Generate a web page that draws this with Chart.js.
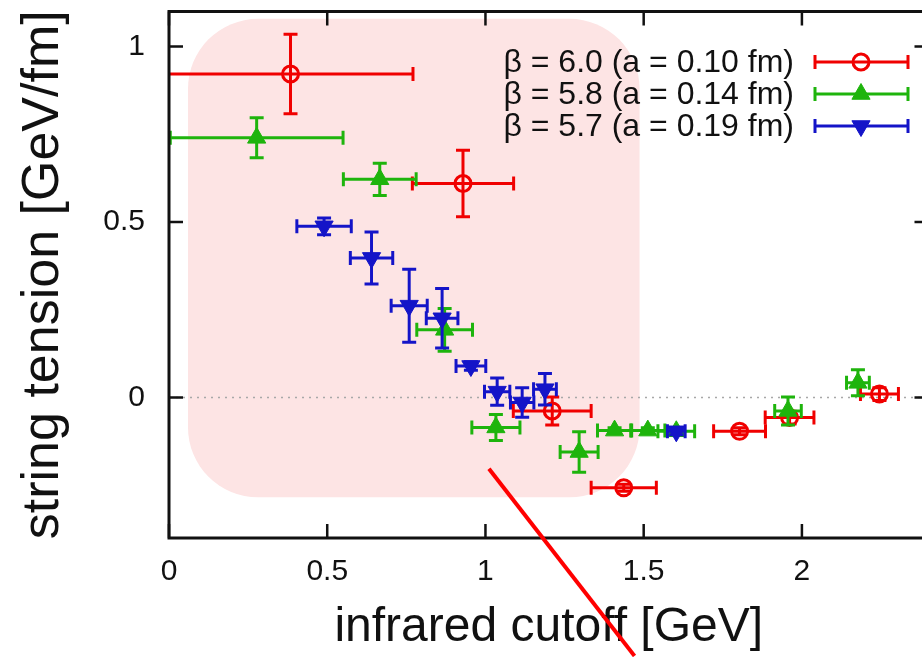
<!DOCTYPE html>
<html>
<head>
<meta charset="utf-8">
<script src="https://cdn.jsdelivr.net/npm/chart.js@4.4.1/dist/chart.umd.min.js"></script>
<style>
  html, body { margin: 0; padding: 0; background: #fff; overflow: hidden; }
  #wrap { width: 922px; height: 657px; overflow: hidden; }
</style>
</head>
<body>
<div id="wrap"><canvas id="chart" width="940" height="657"></canvas></div>
<script>
// Datos
const seriesLabels = ['β = 6.0 (a = 0.10 fm)', 'β = 5.8 (a = 0.14 fm)', 'β = 5.7 (a = 0.19 fm)'];

const redX    = [0.384, 0.929, 1.211, 1.437, 1.803, 1.961, 2.245];
const redY    = [0.922, 0.610, -0.038, -0.257, -0.096, -0.057, 0.010];
const redXErr = [0.387, 0.160, 0.123, 0.103, 0.082, 0.077, 0.060];
const redYErr = [0.113, 0.095, 0.040, 0.010, 0.010, 0.018, 0.018];

const greenX    = [0.277, 0.666, 0.871, 1.033, 1.296, 1.408, 1.513, 1.603, 1.956, 2.177];
const greenY    = [0.740, 0.622, 0.193, -0.085, -0.155, -0.094, -0.094, -0.096, -0.038, 0.042];
const greenXErr = [0.273, 0.115, 0.088, 0.076, 0.060, 0.054, 0.054, 0.058, 0.042, 0.036];
const greenYErr = [0.057, 0.046, 0.061, 0.037, 0.058, 0.008, 0.008, 0.010, 0.040, 0.037];

const blueX    = [0.490, 0.640, 0.759, 0.863, 0.954, 1.037, 1.116, 1.188, 1.603];
const blueY    = [0.488, 0.398, 0.262, 0.226, 0.090, 0.017, -0.014, 0.024, -0.096];
const blueXErr = [0.086, 0.067, 0.057, 0.050, 0.047, 0.040, 0.037, 0.036, 0.028];
const blueYErr = [0.024, 0.074, 0.104, 0.085, 0.012, 0.039, 0.042, 0.045, 0.010];

const xTicks = [0, 0.5, 1, 1.5, 2];
const yTicks = [0, 0.5, 1];

// shaded region and red arrow, in data units
const shadeBox = { x0: 0.06, x1: 1.487, y0: -0.284, y1: 1.079 };
const arrowLine = { x0: 1.011, y0: -0.2025, x1: 1.471, y1: -0.736 };

const RED = '#f00000';
const GREEN = '#1eb40c';
const BLUE = '#1414c8';
const FONT = '"Liberation Sans", Arial, Helvetica, sans-serif';

function toPoints(xs, ys) {
    return xs.map((x, i) => ({ x: x, y: ys[i] }));
}

function makeDataset(label, xs, ys, xErr, yErr, color, style, order) {
    return {
        label: label,
        data: toPoints(xs, ys),
        xErr: xErr,
        yErr: yErr,
        showLine: false,
        borderColor: color,
        pointBorderColor: color,
        pointBackgroundColor: style.fill ? color : 'rgba(0,0,0,0)',
        pointStyle: style.shape,
        pointRotation: style.rotation,
        pointRadius: style.radius,
        pointHoverRadius: style.radius,
        pointBorderWidth: style.border,
        order: order
    };
}

const redStyle = { shape: 'circle', fill: false, rotation: 0, radius: 8, border: 3 };
const greenStyle = { shape: 'triangle', fill: true, rotation: 0, radius: 10.5, border: 1 };
const blueStyle = { shape: 'triangle', fill: true, rotation: 180, radius: 10.5, border: 1 };

// Barras de error
const errorBars = {
    id: 'errorBars',
    beforeDatasetDraw(chart, args) {
        const ds = chart.data.datasets[args.index];
        const xs = chart.scales.x, ys = chart.scales.y;
        const area = chart.chartArea;
        const ctx = chart.ctx;
        const cap = 7;
        ctx.save();
        ctx.beginPath();
        ctx.rect(area.left, area.top, area.right - area.left, area.bottom - area.top);
        ctx.clip();
        ctx.strokeStyle = ds.borderColor;
        ctx.lineWidth = 3;
        ds.data.forEach((p, i) => {
            const px = xs.getPixelForValue(p.x);
            const py = ys.getPixelForValue(p.y);
            const xl = xs.getPixelForValue(p.x - ds.xErr[i]);
            const xr = xs.getPixelForValue(p.x + ds.xErr[i]);
            const yt = ys.getPixelForValue(p.y + ds.yErr[i]);
            const yb = ys.getPixelForValue(p.y - ds.yErr[i]);
            ctx.beginPath();
            ctx.moveTo(xl, py); ctx.lineTo(xr, py);
            ctx.moveTo(xl, py - cap); ctx.lineTo(xl, py + cap);
            ctx.moveTo(xr, py - cap); ctx.lineTo(xr, py + cap);
            ctx.moveTo(px, yt); ctx.lineTo(px, yb);
            ctx.moveTo(px - cap, yt); ctx.lineTo(px + cap, yt);
            ctx.moveTo(px - cap, yb); ctx.lineTo(px + cap, yb);
            ctx.stroke();
        });
        ctx.restore();
    }
};

// Fondo rosa y linea de cero
const background = {
    id: 'background',
    beforeDatasetsDraw(chart) {
        const xs = chart.scales.x, ys = chart.scales.y;
        const area = chart.chartArea;
        const ctx = chart.ctx;
        const l = xs.getPixelForValue(shadeBox.x0), r = xs.getPixelForValue(shadeBox.x1);
        const t = ys.getPixelForValue(shadeBox.y1), b = ys.getPixelForValue(shadeBox.y0);
        ctx.save();
        ctx.fillStyle = '#fde4e4';
        ctx.beginPath();
        ctx.roundRect(l, t, r - l, b - t, 70);
        ctx.fill();

        const y0 = ys.getPixelForValue(0);
        ctx.strokeStyle = '#a8a8a8';
        ctx.lineWidth = 1.5;
        ctx.setLineDash([2, 5]);
        ctx.beginPath();
        ctx.moveTo(area.left, y0);
        ctx.lineTo(area.right, y0);
        ctx.stroke();
        ctx.restore();
    }
};

// Marco con marcas hacia dentro, leyenda y flecha
const frameAndLegend = {
    id: 'frameAndLegend',
    afterDatasetsDraw(chart) {
        const xs = chart.scales.x, ys = chart.scales.y;
        const a = chart.chartArea;
        const ctx = chart.ctx;
        const tick = 14;
        ctx.save();
        ctx.strokeStyle = '#111';
        ctx.lineWidth = 3;
        ctx.strokeRect(a.left, a.top, a.right - a.left, a.bottom - a.top);
        ctx.lineWidth = 2.5;
        ctx.beginPath();
        xTicks.forEach(v => {
            const x = xs.getPixelForValue(v);
            ctx.moveTo(x, a.bottom); ctx.lineTo(x, a.bottom - tick);
            ctx.moveTo(x, a.top); ctx.lineTo(x, a.top + tick);
        });
        yTicks.forEach(v => {
            const y = ys.getPixelForValue(v);
            ctx.moveTo(a.left, y); ctx.lineTo(a.left + tick, y);
            ctx.moveTo(a.right, y); ctx.lineTo(a.right - tick, y);
        });
        ctx.stroke();

        // leyenda
        ctx.font = '32px ' + FONT;
        ctx.textAlign = 'right';
        ctx.textBaseline = 'middle';
        chart.data.datasets.forEach((ds, i) => {
            const y = 62 + i * 32;
            ctx.fillStyle = '#111';
            ctx.fillText(ds.label, 794, y + 1);
            ctx.strokeStyle = ds.borderColor;
            ctx.lineWidth = 3;
            ctx.beginPath();
            ctx.moveTo(815, y); ctx.lineTo(908, y);
            ctx.moveTo(815, y - 7); ctx.lineTo(815, y + 7);
            ctx.moveTo(908, y - 7); ctx.lineTo(908, y + 7);
            ctx.stroke();
            ctx.fillStyle = ds.pointBackgroundColor;
            ctx.lineWidth = ds.pointBorderWidth;
            Chart.helpers.drawPoint(ctx, {
                pointStyle: ds.pointStyle,
                rotation: ds.pointRotation,
                radius: ds.pointRadius,
                borderWidth: ds.pointBorderWidth
            }, 861, y);
        });
        ctx.restore();
    },
    afterDraw(chart) {
        const xs = chart.scales.x, ys = chart.scales.y;
        const ctx = chart.ctx;
        ctx.save();
        ctx.strokeStyle = '#ff0000';
        ctx.lineWidth = 4;
        ctx.beginPath();
        ctx.moveTo(xs.getPixelForValue(arrowLine.x0), ys.getPixelForValue(arrowLine.y0));
        ctx.lineTo(xs.getPixelForValue(arrowLine.x1), ys.getPixelForValue(arrowLine.y1));
        ctx.stroke();
        ctx.restore();
    }
};

const ctx = document.getElementById('chart').getContext('2d');
new Chart(ctx, {
    type: 'scatter',
    data: {
        datasets: [
            makeDataset(seriesLabels[0], redX, redY, redXErr, redYErr, RED, redStyle, 2),
            makeDataset(seriesLabels[1], greenX, greenY, greenXErr, greenYErr, GREEN, greenStyle, 1),
            makeDataset(seriesLabels[2], blueX, blueY, blueXErr, blueYErr, BLUE, blueStyle, 0)
        ]
    },
    options: {
        responsive: false,
        animation: false,
        layout: { padding: { top: 9, right: 11, left: 0, bottom: 0 } },
        plugins: {
            legend: { display: false },
            tooltip: { enabled: false }
        },
        scales: {
            x: {
                type: 'linear',
                min: 0,
                max: 2.4,
                afterBuildTicks: s => { s.ticks = xTicks.map(v => ({ value: v })); },
                afterFit: s => { s.height = 119; s.paddingLeft = 0; s.paddingRight = 0; },
                grid: { display: false, drawTicks: false },
                border: { display: false },
                ticks: {
                    padding: 16,
                    color: '#111',
                    font: { family: FONT, size: 30 },
                    maxRotation: 0,
                    callback: v => String(v)
                },
                title: {
                    display: true,
                    text: 'infrared cutoff [GeV]',
                    color: '#111',
                    font: { family: FONT, size: 48 },
                    padding: { top: 0, bottom: 0 }
                }
            },
            y: {
                type: 'linear',
                min: -0.4,
                max: 1.1,
                afterBuildTicks: s => { s.ticks = yTicks.map(v => ({ value: v })); },
                afterFit: s => { s.width = 169; s.paddingTop = 0; s.paddingBottom = 0; },
                grid: { display: false, drawTicks: false },
                border: { display: false },
                ticks: {
                    padding: 24,
                    color: '#111',
                    font: { family: FONT, size: 30 },
                    callback: v => String(v)
                },
                title: {
                    display: true,
                    text: 'string tension [GeV/fm]',
                    color: '#111',
                    font: { family: FONT, size: 52 },
                    padding: { top: 12, bottom: 0 }
                }
            }
        }
    },
    plugins: [background, errorBars, frameAndLegend]
});
</script>
</body>
</html>
